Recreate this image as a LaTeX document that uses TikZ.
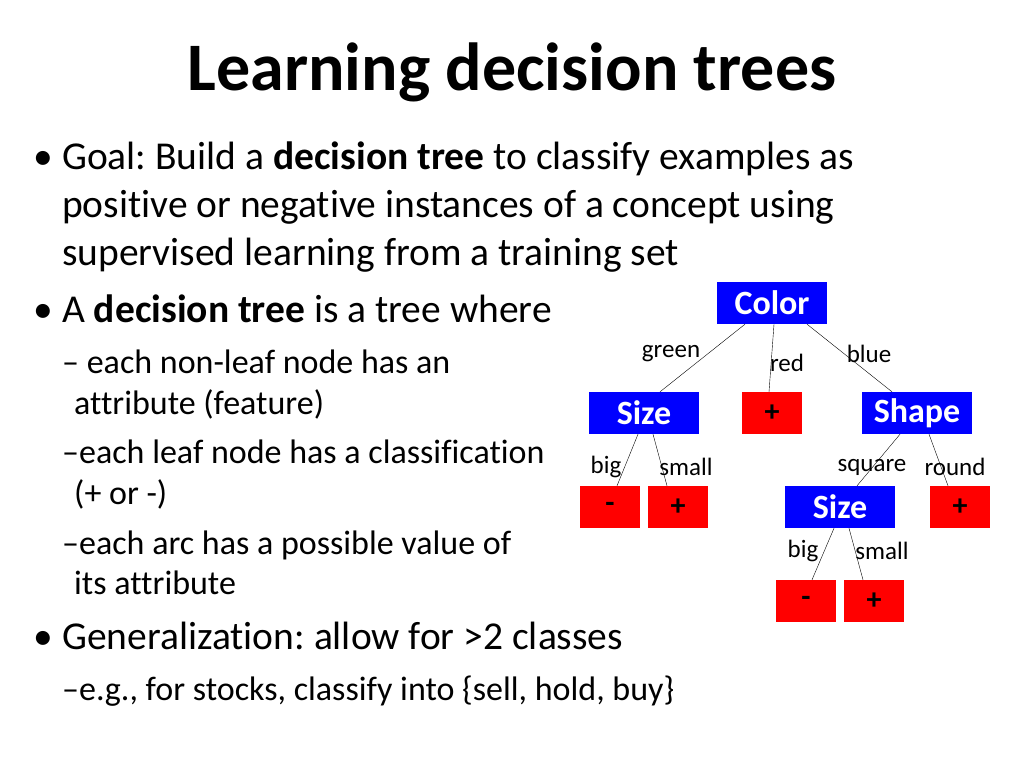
\documentclass[tikz,border=0pt]{standalone}
\usepackage{fontspec}
\setmainfont{Carlito}[Ligatures={NoCommon}]
\frenchspacing
\begin{document}
\begin{tikzpicture}[x=1pt,y=-1pt,
  inner node/.style={fill=blue,text=white,font=\fontsize{34}{38}\selectfont\bfseries,minimum width=110pt,minimum height=42pt,inner sep=0pt},
  leaf/.style={fill=red,text=black,font=\fontsize{30}{34}\selectfont\bfseries,minimum width=60pt,minimum height=42pt,inner sep=0pt},
  lab/.style={font=\fontsize{25}{28}\selectfont,inner sep=0pt},
  body/.style={anchor=base west,inner sep=0pt,font=\fontsize{39.5}{44}\selectfont},
  sub/.style={anchor=base west,inner sep=0pt,font=\fontsize{34}{38}\selectfont}]
\useasboundingbox (0,0) rectangle (1024,768);
\node[font=\fontsize{68}{76}\selectfont\bfseries] (title) at (512,72) {Learning decision trees};
\node[body] (b1) at (33,169) {•};
\node[body] (l1) at (62,169) {Goal: Build a \textbf{decision tree} to classify examples as};
\node[body] (l2) at (62,217) {positive or negative instances of a concept using};
\node[body] (l3) at (62,265) {supervised learning from a training set};
\node[body] (b2) at (33,322) {•};
\node[body] (l4) at (62,322) {A \textbf{decision tree} is a tree where};
\node[sub] (s1) at (62,373) {– each non-leaf node has an};
\node[sub] (s2) at (74,414) {attribute (feature)};
\node[sub] (s3) at (62,463) {–each leaf node has a classification};
\node[sub] (s4) at (74,504) {(+ or -)};
\node[sub] (s5) at (62,554) {–each arc has a possible value of};
\node[sub] (s6) at (74,594) {its attribute};
\node[body] (b3) at (33,649) {•};
\node[body] (l5) at (62,649) {Generalization: allow for >2 classes};
\node[sub] (s7) at (62,700) {–e.g., for stocks, classify into \{sell, hold, buy\}};
% tree
\node[inner node] (color) at (772,303) {Color};
\node[inner node] (size1) at (644,413) {Size};
\node[leaf] (red) at (772,413) {+};
\node[inner node] (shape) at (917,413) {Shape};
\node[leaf] (m1) at (610,507) {-};
\node[leaf] (p1) at (678,507) {+};
\node[inner node] (size2) at (840,507) {Size};
\node[leaf] (p2) at (960,507) {+};
\node[leaf] (m2) at (806,601) {-};
\node[leaf] (p3) at (874,601) {+};
\draw ([xshift=-27pt]color.south) -- ([xshift=16pt]size1.north);
\draw ([xshift=2pt]color.south) -- ([xshift=-3pt]red.north);
\draw ([xshift=35pt]color.south) -- ([xshift=-25pt]shape.north);
\draw ([xshift=-6pt]size1.south) -- ([xshift=7pt]m1.north);
\draw ([xshift=9pt]size1.south) -- ([xshift=-11pt]p1.north);
\draw ([xshift=-17pt]shape.south) -- ([xshift=17pt]size2.north);
\draw ([xshift=12pt]shape.south) -- ([xshift=-12pt]p2.north);
\draw ([xshift=-6pt]size2.south) -- ([xshift=6pt]m2.north);
\draw ([xshift=9pt]size2.south) -- ([xshift=-11pt]p3.north);
\node[lab] (lg) at (671,354) {green};
\node[lab] (lr) at (787,363) {red};
\node[lab] (lb) at (869,354) {blue};
\node[lab] (lbig1) at (606,467) {big};
\node[lab] (lsm1) at (686,467) {small};
\node[lab] (lsq) at (872,467) {square};
\node[lab] (lro) at (955,467) {round};
\node[lab] (lbig2) at (803,551) {big};
\node[lab] (lsm2) at (882,551) {small};
\end{tikzpicture}
\end{document}
